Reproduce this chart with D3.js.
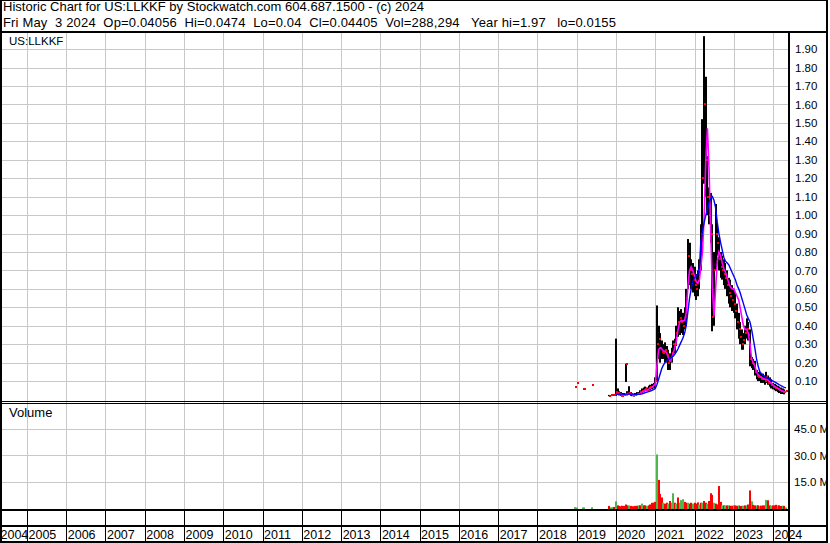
<!DOCTYPE html>
<html><head><meta charset="utf-8">
<script src="https://cdn.jsdelivr.net/npm/d3@7"></script>
<style>
html,body{margin:0;padding:0;background:#fff;}
svg{display:block;font-family:"Liberation Sans",Arial,sans-serif;}
</style></head><body>
<svg id="c" width="830" height="543"></svg>
<script>
// ---------------- DATA ----------------
const titleLine1 = "Historic Chart for US:LLKKF by Stockwatch.com 604.687.1500 - (c) 2024";
const titleLine2 = "Fri May  3 2024  Op=0.04056  Hi=0.0474  Lo=0.04  Cl=0.04405  Vol=288,294   Year hi=1.97   lo=0.0155";
const symbolLabel = "US:LLKKF";
const volumeLabel = "Volume";
const yearLabels = [2004,2005,2006,2007,2008,2009,2010,2011,2012,2013,2014,2015,2016,2017,2018,2019,2020,2021,2022,2023,2024];
const priceTicks = [0.1,0.2,0.3,0.4,0.5,0.6,0.7,0.8,0.9,1.0,1.1,1.2,1.3,1.4,1.5,1.6,1.7,1.8,1.9];
const volumeTicks = [15e6,30e6,45e6];

// sparse early trades (close only)
const earlyDates  = ["2018-12-15","2019-01-01","2019-02-25","2019-03-10","2019-05-28"];
const earlyCloses = [0.067,0.087,0.059,0.059,0.077];
const earlyVolumes = [0.5,0.3,0.3,0.3,0.4]; // millions

const dates = [
"2019-11-01","2019-11-16","2019-12-01","2019-12-16",
"2020-01-01","2020-01-16","2020-02-01","2020-02-16","2020-03-01","2020-03-16","2020-04-01","2020-04-16","2020-05-01","2020-05-16","2020-06-01","2020-06-16","2020-07-01","2020-07-16","2020-08-01","2020-08-16","2020-09-01","2020-09-16","2020-10-01","2020-10-16","2020-11-01","2020-11-16","2020-12-01","2020-12-16",
"2021-01-01","2021-01-16","2021-02-01","2021-02-16","2021-03-01","2021-03-16","2021-04-01","2021-04-16","2021-05-01","2021-05-16","2021-06-01","2021-06-16","2021-07-01","2021-07-16","2021-08-01","2021-08-16","2021-09-01","2021-09-16","2021-10-01","2021-10-16","2021-11-01","2021-11-16","2021-12-01","2021-12-16",
"2022-01-01","2022-01-16","2022-02-01","2022-02-16","2022-03-01","2022-03-16","2022-04-01","2022-04-16","2022-05-01","2022-05-16","2022-06-01","2022-06-16","2022-07-01","2022-07-16","2022-08-01","2022-08-16","2022-09-01","2022-09-16","2022-10-01","2022-10-16","2022-11-01","2022-11-16","2022-12-01","2022-12-16",
"2023-01-01","2023-01-16","2023-02-01","2023-02-16","2023-03-01","2023-03-16","2023-04-01","2023-04-16","2023-05-01","2023-05-16","2023-06-01","2023-06-16","2023-07-01","2023-07-16","2023-08-01","2023-08-16","2023-09-01","2023-09-16","2023-10-01","2023-10-16","2023-11-01","2023-11-16","2023-12-01","2023-12-16",
"2024-01-01","2024-01-16","2024-02-01","2024-02-16","2024-03-01","2024-03-16","2024-04-01","2024-04-16","2024-05-01"];

const highs = [
.025,.024,.028,.030,
.330,.060,.045,.040,.035,.035,.194,.045,.072,.040,.035,.030,.035,.040,.040,.050,.060,.065,.070,.065,.075,.080,.085,.090,
.120,.510,.400,.360,.320,.300,.310,.290,.270,.250,.280,.320,.330,.400,.500,.480,.490,.470,.500,.600,.870,.850,.760,.740,
.720,.680,.700,.760,.950,1.520,1.970,1.750,1.320,1.150,1.120,.950,.800,1.060,.950,.880,.800,.780,.760,.740,.700,.660,.650,.620,
.600,.580,.520,.470,.420,.380,.360,.400,.440,.420,.380,.230,.220,.210,.160,.150,.150,.140,.140,.130,.150,.130,.120,.110,
.090,.085,.080,.075,.070,.065,.060,.055,.0474];

const lows = [
.018,.019,.020,.020,
.020,.025,.022,.020,.016,.020,.095,.022,.025,.020,.018,.016,.020,.024,.025,.030,.035,.040,.045,.045,.050,.050,.055,.060,
.070,.100,.220,.200,.220,.220,.200,.200,.160,.160,.200,.240,.250,.290,.340,.350,.360,.350,.380,.420,.600,.620,.600,.580,
.560,.540,.560,.600,.700,.850,1.170,1.100,1.000,.950,.850,.370,.400,.700,.780,.700,.660,.650,.620,.600,.560,.520,.500,.480,
.470,.440,.380,.330,.300,.270,.270,.300,.330,.320,.180,.170,.160,.130,.110,.100,.100,.090,.090,.080,.090,.080,.070,.060,
.055,.050,.045,.040,.035,.030,.030,.028,.040];

const closes = [
.020,.022,.025,.024,
.040,.035,.030,.025,.020,.025,.190,.030,.035,.030,.025,.022,.026,.030,.032,.040,.045,.050,.055,.052,.060,.068,.070,.080,
.100,.300,.330,.280,.260,.250,.270,.240,.200,.210,.250,.300,.300,.360,.420,.440,.420,.400,.450,.550,.780,.700,.680,.650,
.620,.600,.640,.700,.900,1.200,1.600,1.300,1.100,1.000,.900,.450,.700,.900,.850,.760,.720,.700,.680,.660,.620,.580,.560,.540,
.520,.480,.420,.380,.340,.300,.320,.360,.380,.350,.220,.200,.190,.150,.130,.120,.120,.110,.110,.100,.120,.090,.090,.080,
.070,.065,.060,.055,.050,.045,.042,.040,.04405];

// short moving average (magenta)
const fastAverage = [
null,null,null,null,
.030,.034,.033,.030,.026,.024,.030,.032,.033,.031,.028,.025,.025,.027,.030,.034,.040,.045,.050,.052,.056,.062,.067,.074,
.085,.180,.270,.280,.275,.265,.260,.255,.230,.210,.220,.250,.280,.320,.380,.420,.430,.425,.430,.470,.620,.700,.720,.700,
.670,.640,.630,.650,.720,.800,1.000,1.300,1.470,1.250,.900,.600,.450,.600,.750,.800,.780,.740,.710,.690,.660,.630,.610,.600,
.600,.580,.560,.540,.500,.450,.400,.380,.380,.360,.300,.220,.200,.180,.150,.135,.125,.120,.115,.110,.110,.105,.095,.090,
.080,.072,.066,.060,.055,.050,.046,.043,.042];

// long moving average (blue)
const slowAverage = [
null,null,null,null,
.028,.029,.030,.030,.029,.028,.029,.029,.030,.030,.030,.029,.028,.028,.028,.029,.031,.034,.037,.040,.043,.046,.050,.054,
.060,.080,.110,.140,.165,.185,.200,.210,.218,.222,.228,.235,.245,.258,.275,.295,.315,.335,.360,.400,.480,.550,.600,.640,
.660,.670,.680,.720,.860,.910,.960,1.000,1.030,1.070,1.090,1.100,1.080,1.040,.960,.900,.850,.810,.770,.750,.740,.730,.710,.690,
.670,.650,.620,.600,.580,.550,.520,.490,.460,.440,.420,.380,.330,.280,.220,.180,.150,.140,.130,.125,.120,.115,.110,.105,
.100,.095,.090,.085,.080,.075,.070,.066,.063];

// volume, millions of shares
const volumes = [
1.2,0.4,0.5,0.6,
3.8,1.5,1.2,1.0,1.3,1.2,2.0,1.5,1.5,1.2,1.0,1.0,1.2,1.3,1.5,1.5,2.5,1.5,1.5,1.3,1.5,2.0,3.0,3.0,
3.5,30.5,16,8,6,3,2.5,3,2.5,4,3,8.4,3,2.5,6,3,4.5,5,3.5,3,3,2.5,3,2.5,
3,2.5,3.2,2,3,3,4,3,2.5,4,8.4,7.5,3,2.5,2,12.5,3.5,1.5,1.5,1.5,1.5,1.5,1.3,1.3,
1.5,1.5,1.3,1.5,1.2,1.2,1.3,1.5,1.5,2,10,3.8,1.8,1.5,1.5,1.5,1.3,1.3,1.5,1.5,4.6,4.4,1.5,1.3,
1.5,1.5,1.8,1.5,1.5,1.2,1.3,1.2,0.29];

// g = up period (green volume), r = down period (red volume)
const volumeDirection = (
"rggr" +
"grrrrrrrgrrrrrgrgrrgrrrr" +
"rgrrrgrrgrggrgrgggrrgrrg" +
"rrrgrgrrgrrrgrrrrgrgrgrr" +
"grrgrrgrgrrgrrgrgrrrgrrg" +
"rrrgrrgrg").split("");

// ---------------- DRAW ----------------
const parse = d3.timeParse("%Y-%m-%d");
const rows = dates.map((d,i) => ({date: parse(d), hi: highs[i], lo: lows[i], cl: closes[i],
  fast: fastAverage[i], slow: slowAverage[i], vol: volumes[i]*1e6, dir: volumeDirection[i]}));
const early = earlyDates.map((d,i) => ({date: parse(d), cl: earlyCloses[i], vol: earlyVolumes[i]*1e6}));

const W = 830, H = 543;
const plotL = 2, plotR = 788, priceTop = 33, priceBot = 401, volTop = 403, volBot = 509;

const x = d3.scaleTime().domain([new Date(2005,0,1), new Date(2024,0,1)]).range([27, 773]);
const yP = d3.scaleLinear().domain([0, 1.9]).range([399.5, 49.1]);
const yV = d3.scaleLinear().domain([0, 45e6]).range([508, 429]);

const svg = d3.select("#c");
const defs = svg.append("defs");
defs.append("clipPath").attr("id","pc").append("rect").attr("x",plotL).attr("y",priceTop).attr("width",plotR-plotL).attr("height",priceBot-priceTop);
defs.append("clipPath").attr("id","vc").append("rect").attr("x",plotL).attr("y",volTop).attr("width",plotR-plotL).attr("height",volBot-volTop);

const gridColor = "#c8c8c8";
const yearDates = yearLabels.map(y => new Date(y,0,1));
const px = v => Math.round(v) + 0.5;

// grid
const grid = svg.append("g").attr("stroke", gridColor).attr("stroke-width",1).attr("shape-rendering","crispEdges");
grid.selectAll("line.v").data(yearDates.filter(d => x(d) > plotL)).join("line")
  .attr("x1", d=>px(x(d))).attr("x2", d=>px(x(d))).attr("y1", priceTop).attr("y2", volBot);
grid.selectAll("line.hp").data(priceTicks).join("line")
  .attr("x1", plotL).attr("x2", plotR).attr("y1", d=>px(yP(d))).attr("y2", d=>px(yP(d)));
grid.selectAll("line.hv").data(volumeTicks).join("line")
  .attr("x1", plotL).attr("x2", plotR).attr("y1", d=>px(yV(d))).attr("y2", d=>px(yV(d)));

// price marks
const pg = svg.append("g").attr("clip-path","url(#pc)");
pg.append("g").selectAll("rect").data(rows).join("rect")
  .attr("x", d => Math.round(x(d.date)) - 1).attr("width", 2)
  .attr("y", d => yP(d.hi)).attr("height", d => Math.max(1, yP(d.lo) - yP(d.hi)))
  .attr("fill", "#000");
pg.append("g").selectAll("rect").data(rows.concat(early)).join("rect")
  .attr("x", d => Math.round(x(d.date))).attr("width", 2)
  .attr("y", d => Math.round(yP(d.cl)) - 1).attr("height", 2)
  .attr("fill", "#ff0000");
pg.append("path").datum(rows)
  .attr("d", d3.line().defined(d => d.fast != null).x(d => x(d.date)).y(d => yP(d.fast)))
  .attr("fill","none").attr("stroke","#ff00ff").attr("stroke-width",1.6);
pg.append("path").datum(rows)
  .attr("d", d3.line().defined(d => d.slow != null).x(d => x(d.date)).y(d => yP(d.slow)))
  .attr("fill","none").attr("stroke","#0000ff").attr("stroke-width",1.4);

// volume marks
const vg = svg.append("g").attr("clip-path","url(#vc)");
vg.selectAll("rect").data(early.map(d => ({...d, dir:"g"})).concat(rows)).join("rect")
  .attr("x", d => Math.round(x(d.date)) - 1).attr("width", 2)
  .attr("y", d => yV(d.vol)).attr("height", d => volBot - yV(d.vol))
  .attr("fill", d => d.dir === "g" ? "#4cb84c" : "#ff0000");

// right axes
const fontFam = '"Liberation Sans", Arial, sans-serif';
const pAxis = svg.append("g").attr("transform","translate(795,0)")
  .call(d3.axisRight(yP).tickValues(priceTicks).tickFormat(d3.format(".2f")).tickSize(0).tickPadding(0));
pAxis.select(".domain").remove();
pAxis.attr("font-size", null).attr("font-family", null);
pAxis.selectAll("text").attr("font-size","11.5px").attr("font-family",fontFam).attr("fill","#000");

const vAxis = svg.append("g").attr("transform","translate(794,0)")
  .call(d3.axisRight(yV).tickValues(volumeTicks).tickFormat(d => (d/1e6).toFixed(1) + " M").tickSize(0).tickPadding(0));
vAxis.select(".domain").remove();
vAxis.attr("font-size", null).attr("font-family", null);
vAxis.selectAll("text").attr("font-size","11.5px").attr("font-family",fontFam).attr("fill","#000");

// header & panel labels (spaces kept as non-breaking so the wide gaps survive)
const keepSpaces = s => s.replace(/ /g, "\u00a0");
svg.append("text").attr("x",3).attr("y",11).attr("font-size","13px").attr("fill","#000")
  .attr("textLength", 421).attr("lengthAdjust","spacing").text(keepSpaces(titleLine1));
svg.append("text").attr("x",3).attr("y",27).attr("font-size","13px").attr("fill","#000")
  .attr("textLength", 613).attr("lengthAdjust","spacing").text(keepSpaces(titleLine2));
svg.append("text").attr("x",9).attr("y",45).attr("font-size","11.5px").attr("fill","#000").text(symbolLabel);
svg.append("text").attr("x",9).attr("y",417).attr("font-size","13px").attr("fill","#000").text(volumeLabel);

// x-axis band
const xb = svg.append("g").attr("stroke","#000").attr("stroke-width",1).attr("shape-rendering","crispEdges");
xb.selectAll("line.t").data(yearDates.filter(d => x(d) > plotL)).join("line")
  .attr("x1", d=>px(x(d))).attr("x2", d=>px(x(d))).attr("y1", 511).attr("y2", 525);
xb.selectAll("line.s").data(yearDates.filter(d => x(d) > plotL)).join("line")
  .attr("x1", d=>px(x(d))).attr("x2", d=>px(x(d))).attr("y1", 527).attr("y2", 541);
svg.append("g").selectAll("text").data(yearDates).join("text")
  .attr("x", d => Math.max(x(d) + 1.5, 0.5)).attr("y", 539)
  .attr("font-size","12.5px").attr("fill","#000")
  .text(d => d.getFullYear());

// frame
const frame = [
  [0,0,2,H],[826,0,2,H],[0,0,828,1],[0,31,828,2],
  [plotR,33,2,H-33],[0,401,828,1],[0,403,828,1],
  [0,509,plotR+2,2],[0,525,828,2],[0,541,828,2]
];
svg.append("g").selectAll("rect").data(frame).join("rect")
  .attr("x",d=>d[0]).attr("y",d=>d[1]).attr("width",d=>d[2]).attr("height",d=>d[3]).attr("fill","#000");
svg.append("rect").attr("x",828).attr("y",0).attr("width",2).attr("height",H).attr("fill","#fff");
</script>
</body></html>
